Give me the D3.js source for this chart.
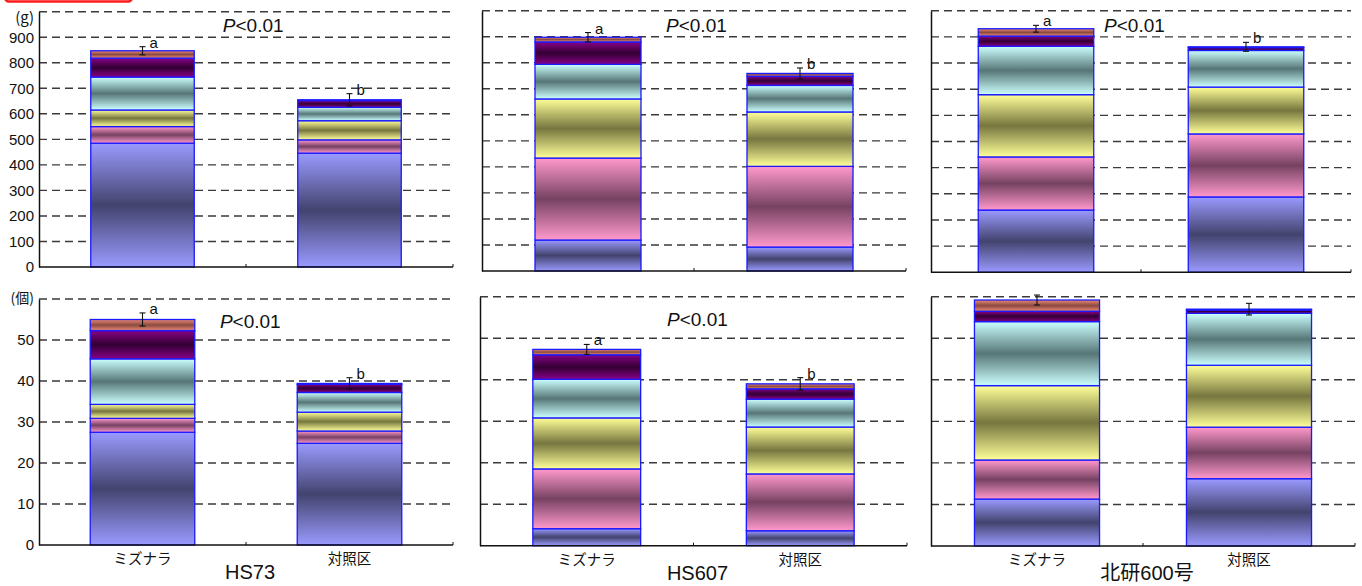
<!DOCTYPE html>
<html>
<head>
<meta charset="utf-8">
<script src="https://cdn.jsdelivr.net/npm/d3@7"></script>
<style>
    body { margin: 0; background: #fff; }
    svg { display: block; font-family: "Liberation Sans", Arial, sans-serif; }
</style>
</head>
<body>
<svg id="chart" width="1362" height="586"></svg>
<script>
// Treatments and cultivars
const treatments = ['ミズナラ', '対照区'];
const cultivars = ['HS73', 'HS607', '北研600号'];
const layerKeys = ['s1', 's2', 's3', 's4', 's5', 's6'];

// Yield (g), stacked from bottom to top, one row per treatment
const weightHS73 = [[485, 65, 65, 129, 74, 29], [446, 52, 75, 53, 26, 3]];
const weightHS607 = [[119, 315, 227, 133, 86, 18], [92, 310, 209, 102, 35, 11]];
const weightHokken = [[238, 203, 238, 185, 39, 28], [288, 241, 179, 140, 11, 3]];
const weightErr = [[16, 24], [18, 21], [13, 17]];
const weightLetters = [['a', 'b'], ['a', 'b'], ['a', 'b']];
const weightSig = ['P<0.01', 'P<0.01', 'P<0.01'];

// Number of fruit bodies, same layout
const countHS73 = [[27.5, 3.4, 3.4, 11.1, 6.9, 2.7], [24.8, 3.0, 4.6, 4.8, 2.0, 0.2]];
const countHS607 = [[4.1, 14.4, 12.3, 9.3, 5.9, 1.3], [3.6, 13.7, 11.3, 6.7, 2.5, 1.2]];
const countHokken = [[11.3, 9.4, 17.9, 15.4, 2.5, 2.7], [16.2, 12.4, 14.9, 12.5, 0.8, 0.2]];
const countErr = [[1.6, 1.4], [1.2, 1.5], [1.2, 1.4]];
const countLetters = [['a', 'b'], ['a', 'b'], ['', '']];
const countSig = ['P<0.01', 'P<0.01', ''];

// Axis ticks
const weightTicks = [0, 100, 200, 300, 400, 500, 600, 700, 800, 900];
const countTicks = [0, 10, 20, 30, 40, 50];

// Layer gradient colours: [edge, middle]
const layerColors = [
    ['#9a9aff', '#43436e'],
    ['#ff99cc', '#764262'],
    ['#ffff99', '#76763f'],
    ['#ccffff', '#577676'],
    ['#880088', '#330033'],
    ['#ee8a72', '#8a4a40']
];

const rows = {
    weight: { max: 1000, step: 100, ticks: weightTicks, unit: '(g)', sigY: 920,
              values: [weightHS73, weightHS607, weightHokken],
              err: weightErr, letters: weightLetters, sig: weightSig },
    count: { max: 60, step: 10, ticks: countTicks, unit: '(個)', sigY: 53,
             values: [countHS73, countHS607, countHokken],
             err: countErr, letters: countLetters, sig: countSig }
};

// Panel frames
const panels = [
    { row: 'weight', col: 0, x0: 39, x1: 453, yTop: 11.7, yZero: 267, bar: 0.5, sigX: 0.444, labels: true },
    { row: 'weight', col: 1, x0: 482, x1: 906, yTop: 10.7, yZero: 271, bar: 0.5, sigX: 0.434 },
    { row: 'weight', col: 2, x0: 931, x1: 1351, yTop: 10.7, yZero: 272.3, bar: 0.55, sigX: 0.412 },
    { row: 'count', col: 0, x0: 39, x1: 453, yTop: 299, yZero: 545, bar: 0.505, sigX: 0.437, labels: true },
    { row: 'count', col: 1, x0: 480, x1: 907, yTop: 296.7, yZero: 545.7, bar: 0.505, sigX: 0.438 },
    { row: 'count', col: 2, x0: 931, x1: 1355, yTop: 296.7, yZero: 546, bar: 0.59, sigX: 0.42 }
];

const svg = d3.select('#chart');
const jpFont = '"Noto Sans CJK JP", "Liberation Sans", sans-serif';

// Gradients for the shaded bar segments
const defs = svg.append('defs');
layerColors.forEach((c, i) => {
    const grad = defs.append('linearGradient')
        .attr('id', 'grad-' + i)
        .attr('x1', 0).attr('y1', 0).attr('x2', 0).attr('y2', 1);
    grad.append('stop').attr('offset', '0%').attr('stop-color', c[0]);
    grad.append('stop').attr('offset', '50%').attr('stop-color', c[1]);
    grad.append('stop').attr('offset', '100%').attr('stop-color', c[0]);
});

// Red frame cut off at the top-left corner
svg.append('rect')
    .attr('x', 5).attr('y', -30)
    .attr('width', 127).attr('height', 31.5)
    .attr('rx', 4)
    .attr('fill', 'none')
    .attr('stroke', '#ff1a1a')
    .attr('stroke-width', 2.5);

panels.forEach(p => {
    const r = rows[p.row];
    const g = svg.append('g');

    const x = d3.scaleBand()
        .domain(treatments)
        .range([p.x0, p.x1])
        .paddingInner(1 - p.bar)
        .paddingOuter((1 - p.bar) / 2);

    const y = d3.scaleLinear()
        .domain([0, r.max])
        .range([p.yZero, p.yTop]);

    // Dashed grid
    g.append('g')
        .selectAll('line')
        .data(d3.range(r.step, r.max + r.step / 2, r.step))
        .join('line')
        .attr('x1', p.x0).attr('x2', p.x1)
        .attr('y1', d => y(d)).attr('y2', d => y(d))
        .attr('stroke', '#3a3a3a')
        .attr('stroke-width', 1.4)
        .attr('stroke-dasharray', '8,5');

    // Stacked bars
    const vals = r.values[p.col];
    const tableRows = treatments.map((t, i) => {
        const o = { treatment: t };
        layerKeys.forEach((k, j) => { o[k] = vals[i][j]; });
        return o;
    });
    const series = d3.stack().keys(layerKeys)(tableRows);

    g.append('g')
        .selectAll('g')
        .data(series)
        .join('g')
        .attr('fill', (d, i) => `url(#grad-${i})`)
        .selectAll('rect')
        .data(d => d)
        .join('rect')
        .attr('x', d => x(d.data.treatment))
        .attr('width', x.bandwidth())
        .attr('y', d => y(d[1]))
        .attr('height', d => y(d[0]) - y(d[1]))
        .attr('stroke', '#1a1aff')
        .attr('stroke-width', 1.3);

    // Error bars and letters
    const totals = vals.map(v => d3.sum(v));
    treatments.forEach((t, i) => {
        const cx = x(t) + x.bandwidth() / 2;
        const e = r.err[p.col][i];
        const top = y(totals[i] + e);
        const bot = y(totals[i] - e);
        const eb = g.append('g').attr('stroke', '#111').attr('stroke-width', 1.1);
        eb.append('line').attr('x1', cx).attr('x2', cx).attr('y1', top).attr('y2', bot);
        eb.append('line').attr('x1', cx - 3).attr('x2', cx + 3).attr('y1', top).attr('y2', top);
        eb.append('line').attr('x1', cx - 3).attr('x2', cx + 3).attr('y1', bot).attr('y2', bot);

        const letter = r.letters[p.col][i];
        if (letter) {
            g.append('text')
                .attr('x', cx + 7)
                .attr('y', top + 1)
                .attr('font-size', 15)
                .attr('fill', '#111')
                .text(letter);
        }
    });

    // Significance note
    const sig = r.sig[p.col];
    if (sig) {
        const t = g.append('text')
            .attr('x', p.x0 + p.sigX * (p.x1 - p.x0))
            .attr('y', y(r.sigY))
            .attr('font-size', 19)
            .attr('fill', '#111');
        t.append('tspan').attr('font-style', 'italic').text(sig[0]);
        t.append('tspan').text(sig.slice(1));
    }

    // Y axis
    const yAxis = d3.axisLeft(y)
        .tickValues(p.labels ? r.ticks : [])
        .tickSize(0)
        .tickPadding(5);
    const ya = g.append('g')
        .attr('transform', `translate(${p.x0},0)`)
        .call(yAxis);
    ya.select('.domain').attr('stroke', '#111').attr('stroke-width', 1.5);
    ya.selectAll('text')
        .attr('font-family', '"Liberation Sans", Arial, sans-serif')
        .attr('font-size', 15)
        .attr('fill', '#111');

    if (p.labels) {
        g.append('text')
            .attr('x', p.x0 - 5)
            .attr('y', y(r.max))
            .attr('dy', p.row === 'weight' ? '0.72em' : '0.32em')
            .attr('text-anchor', 'end')
            .attr('font-size', p.row === 'weight' ? 15 : 14)
            .attr('font-family', jpFont)
            .attr('fill', '#111')
            .text(r.unit);
    }

    // X axis with small boundary ticks
    g.append('line')
        .attr('x1', p.x0).attr('x2', p.x1)
        .attr('y1', p.yZero).attr('y2', p.yZero)
        .attr('stroke', '#111')
        .attr('stroke-width', 1.5);
    g.append('g')
        .selectAll('line')
        .data([p.x0 + x.step(), p.x1])
        .join('line')
        .attr('x1', d => d).attr('x2', d => d)
        .attr('y1', p.yZero).attr('y2', p.yZero - 3)
        .attr('stroke', '#111')
        .attr('stroke-width', 1);

    // Treatment and cultivar labels under the lower row
    if (p.row === 'count') {
        g.selectAll('text.cat')
            .data(treatments)
            .join('text')
            .attr('class', 'cat')
            .attr('x', d => x(d) + x.bandwidth() / 2)
            .attr('y', p.yZero + 19)
            .attr('text-anchor', 'middle')
            .attr('font-family', jpFont)
            .attr('font-size', 14.5)
            .attr('fill', '#111')
            .text(d => d);

        g.append('text')
            .attr('x', (p.x0 + p.x1) / 2 + 4)
            .attr('y', p.yZero + 34)
            .attr('text-anchor', 'middle')
            .attr('font-family', '"Liberation Sans", "Noto Sans CJK JP", sans-serif')
            .attr('font-size', 20)
            .attr('fill', '#111')
            .text(cultivars[p.col]);
    }
});
</script>
</body>
</html>
